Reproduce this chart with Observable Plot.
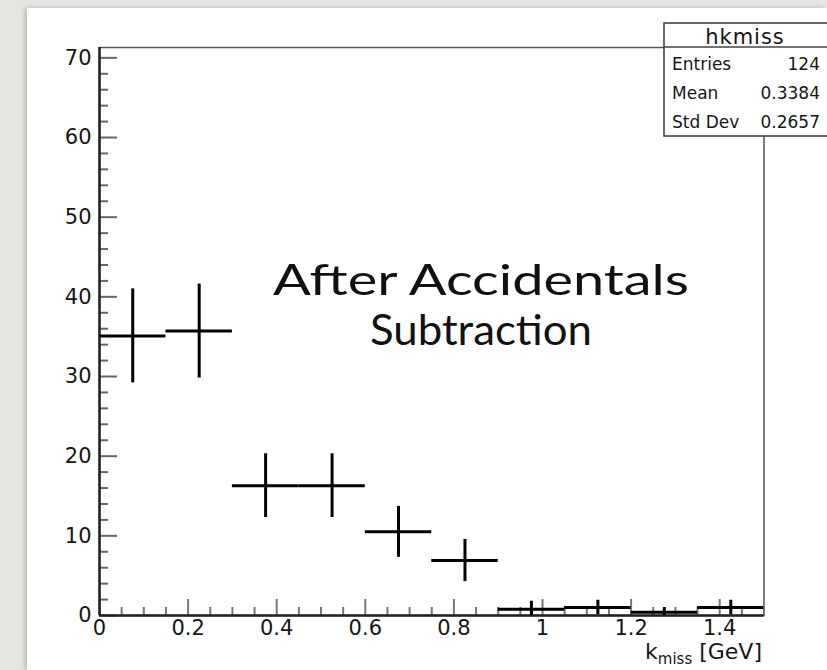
<!DOCTYPE html>
<html><head><meta charset="utf-8">
<script src="https://cdn.jsdelivr.net/npm/d3@7"></script>
<script src="https://cdn.jsdelivr.net/npm/@observablehq/plot@0.6"></script>
<style>
html,body{margin:0;padding:0;width:827px;height:670px;overflow:hidden;background:#e6e5e2;}
#panel{position:absolute;left:27px;top:8px;width:800px;height:662px;background:#fff;box-shadow:-2px 0 5px rgba(0,0,0,0.22);}
#overlay{position:absolute;left:0;top:0;pointer-events:none;}
</style></head>
<body>
<div id="panel"></div>
<svg id="overlay" width="827" height="670"></svg>
<script>
// ---- data ----
const binEdges = [0, 0.15, 0.3, 0.45, 0.6, 0.75, 0.9, 1.05, 1.2, 1.35, 1.5];
const counts   = [35.1, 35.7, 16.3, 16.3, 10.5, 6.9, 0.8, 1.0, 0.4, 1.0];
const errors   = [5.9, 5.9, 4.0, 4.0, 3.2, 2.65, 1.0, 0.9, 0.6, 0.9];
const xMajorTicks = [0, 0.2, 0.4, 0.6, 0.8, 1, 1.2, 1.4];
const xMinorTicks = d3.range(0, 31).map(i => +(i * 0.05).toFixed(2)).filter(v => v <= 1.5 && !xMajorTicks.includes(v));
const yMajorTicks = [0, 10, 20, 30, 40, 50, 60, 70];
const yMinorTicks = d3.range(0, 36).map(i => i * 2).filter(v => v % 10 !== 0);
const statsTitle = "hkmiss";
const statsRows = [["Entries", "124"], ["Mean", "0.3384"], ["Std Dev", "0.2657"]];
const annotation = ["After Accidentals", "Subtraction"];

const bins = counts.map((c, i) => ({x0: binEdges[i], x1: binEdges[i + 1], xc: (binEdges[i] + binEdges[i + 1]) / 2, count: c, err: errors[i]}));

const W = 800, H = 662, mL = 72, mR = 63.5, mT = 39, mB = 55;
const plotW = W - mL - mR, plotH = H - mT - mB;

const chart = Plot.plot({
  width: W, height: H,
  marginLeft: mL, marginRight: mR, marginTop: mT, marginBottom: mB,
  style: {fontFamily: "DejaVu Sans", fontSize: "21px", color: "#161616", background: "transparent"},
  x: {domain: [0, 1.5]},
  y: {domain: [0, 71.3]},
  marks: [
    Plot.frame({stroke: "#555", strokeWidth: 1.5}),
    Plot.tickY(yMinorTicks, {y: d => d, insetRight: plotW - 9, stroke: "#666", strokeWidth: 2}),
    Plot.tickY(yMajorTicks, {y: d => d, insetRight: plotW - 18, stroke: "#666", strokeWidth: 2}),
    Plot.tickX(xMinorTicks, {x: d => d, insetTop: plotH - 8, stroke: "#777", strokeWidth: 2}),
    Plot.tickX(xMajorTicks, {x: d => d, insetTop: plotH - 16, stroke: "#777", strokeWidth: 2}),
    Plot.axisY({ticks: yMajorTicks, tickSize: 0, tickPadding: 8, label: null, fontSize: 21}),
    Plot.axisX({ticks: xMajorTicks, tickSize: 0, tickPadding: 5, label: null, fontSize: 21, tickFormat: d3.format("~g")}),
    Plot.ruleX([0], {stroke: "#222", strokeWidth: 2.5}),
    Plot.ruleY([0], {stroke: "#222", strokeWidth: 2.5}),
    Plot.ruleY(bins, {y: "count", x1: "x0", x2: "x1", stroke: "#000", strokeWidth: 3, clip: true}),
    Plot.ruleX(bins, {x: "xc", y1: d => d.count - d.err, y2: d => d.count + d.err, stroke: "#000", strokeWidth: 3, clip: true})
  ]
});
document.getElementById("panel").appendChild(chart);

const ov = d3.select("#overlay");
const xt = ov.append("text").attr("x", 762).attr("y", 659).attr("text-anchor", "end")
  .attr("font-family", "DejaVu Sans").attr("font-size", 22).attr("fill", "#161616");
xt.append("tspan").text("k");
xt.append("tspan").attr("font-size", 15).attr("dy", 5).text("miss");
xt.append("tspan").attr("dy", -5).text(" [GeV]");

const annWidths = [416, 222];
annotation.forEach((t, i) => {
  ov.append("text").attr("x", 481).attr("y", 295 + i * 50).attr("text-anchor", "middle")
    .attr("font-family", "Lato").attr("font-size", 42).attr("fill", "#111")
    .attr("textLength", annWidths[i]).attr("lengthAdjust", "spacingAndGlyphs").text(t);
});

const box = ov.append("g");
box.append("rect").attr("x", 664).attr("y", 23).attr("width", 200).attr("height", 113)
  .attr("fill", "#fff").attr("stroke", "#444").attr("stroke-width", 1.6);
box.append("line").attr("x1", 664).attr("x2", 827).attr("y1", 47).attr("y2", 47).attr("stroke", "#444").attr("stroke-width", 1.6);
box.append("text").attr("x", 745).attr("y", 44).attr("text-anchor", "middle")
  .attr("font-family", "DejaVu Sans").attr("font-size", 21).attr("letter-spacing", 1).attr("fill", "#161616").text(statsTitle);
statsRows.forEach((r, i) => {
  const y = 70 + i * 29;
  box.append("text").attr("x", 672).attr("y", y).attr("font-family", "DejaVu Sans").attr("font-size", 17).attr("fill", "#161616").text(r[0]);
  box.append("text").attr("x", 820).attr("y", y).attr("text-anchor", "end").attr("font-family", "DejaVu Sans").attr("font-size", 17).attr("fill", "#161616").text(r[1]);
});
</script>
</body></html>
